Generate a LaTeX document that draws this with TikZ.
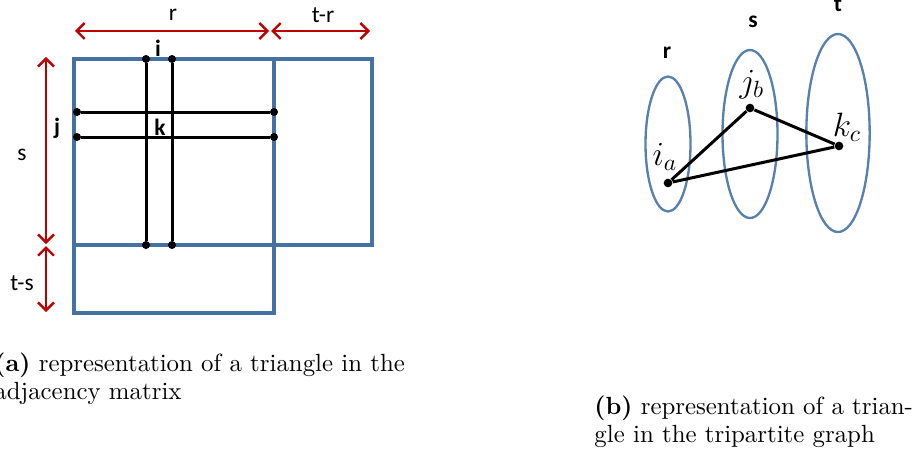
\documentclass[tikz,border=0pt]{standalone}
\usepackage{fontspec}
\newfontfamily\calibri{Carlito}
\usetikzlibrary{arrows.meta,shapes.geometric}
\definecolor{matblue}{RGB}{68,114,164}
\definecolor{ellblue}{RGB}{88,128,172}
\definecolor{dimred}{RGB}{192,0,0}
\begin{document}
\begin{tikzpicture}[x=0.015cm, y=-0.015cm,
  block/.style={draw=matblue, line width=0.06cm},
  dot/.style={circle, fill=black, inner sep=0pt, minimum size=0.12cm},
  idx/.style={font=\calibri\bfseries\fontsize{10}{12}\selectfont},
  dimlab/.style={font=\calibri\fontsize{10}{12}\selectfont},
  dim/.style={draw=dimred, line width=0.035cm, {Straight Barb[length=0.12cm,width=0.24cm]}-{Straight Barb[length=0.12cm,width=0.24cm]}},
  part/.style={draw=ellblue, line width=0.035cm, ellipse, inner sep=0pt},
  vertex/.style={circle, fill=black, inner sep=0pt, minimum size=0.13cm},
  captext/.style={anchor=base west, font=\fontsize{10.6}{12.6}\selectfont, inner sep=0pt}
]
\useasboundingbox (0,0) rectangle (914,452);
% adjacency matrix
\draw[block] (74,59) rectangle (274,245);
\draw[block] (274,59) rectangle (372,245);
\draw[block] (74,245) rectangle (274,313);
\node[dot] (i1) at (146,59) {};
\node[dot] (i1b) at (146,245) {};
\node[dot] (i2) at (172,59) {};
\node[dot] (i2b) at (172,245) {};
\node[dot] (j1) at (77,112) {};
\node[dot] (j1b) at (274,112) {};
\node[dot] (j2) at (77,137) {};
\node[dot] (j2b) at (274,137) {};
\draw[line width=0.045cm] (i1) -- (i1b);
\draw[line width=0.045cm] (i2) -- (i2b);
\draw[line width=0.045cm] (j1) -- (j1b);
\draw[line width=0.045cm] (j2) -- (j2b);
\node[idx] (li) at (158,48) {i};
\node[idx] (lj) at (57,128) {j};
\node[idx] (lk) at (160,127) {k};
% dimensions
\coordinate (r0) at (75,31);
\coordinate (r1) at (269,31);
\coordinate (tr0) at (271,31);
\coordinate (tr1) at (370,31);
\coordinate (s0) at (46,57);
\coordinate (s1) at (46,244);
\coordinate (ts0) at (46,246);
\coordinate (ts1) at (46,312);
\draw[dim] (r0) -- (r1);
\draw[dim] (tr0) -- (tr1);
\draw[dim] (s0) -- (s1);
\draw[dim] (ts0) -- (ts1);
\node[dimlab] (lr) at (173,15) {r};
\node[dimlab] (ltr) at (323,15) {t-r};
\node[dimlab] (ls) at (22,155) {s};
\node[dimlab] (lts) at (22,283) {t-s};
% tripartite graph
\node[part, minimum width=0.675cm, minimum height=2.025cm] (setr) at (668,144) {};
\node[part, minimum width=0.825cm, minimum height=2.52cm] (sets) at (750,134) {};
\node[part, minimum width=0.95cm, minimum height=2.97cm] (sett) at (838,133) {};
\node[idx] (lsr) at (667,53) {r};
\node[idx] (lss) at (753,22) {s};
\node[idx] (lst) at (838,4) {t};
\node[vertex] (ia) at (668,183) {};
\node[vertex] (jb) at (750,108) {};
\node[vertex] (kc) at (839,146) {};
\draw[line width=0.045cm] (ia) -- (jb) -- (kc) -- (ia);
\node[font=\Large] (lia) at (665,157) {$i_a$};
\node[font=\Large] (ljb) at (752,85) {$j_b$};
\node[font=\Large] (lkc) at (847,127) {$k_c$};
% captions
\node[captext] (capa1) at (-6,371) {\textbf{(a)} representation of a triangle in the};
\node[captext] (capa2) at (-6,399) {adjacency matrix};
\node[captext] (capb1) at (594,414) {\textbf{(b)} representation of a trian-};
\node[captext] (capb2) at (594,442) {gle in the tripartite graph};
\end{tikzpicture}
\end{document}
